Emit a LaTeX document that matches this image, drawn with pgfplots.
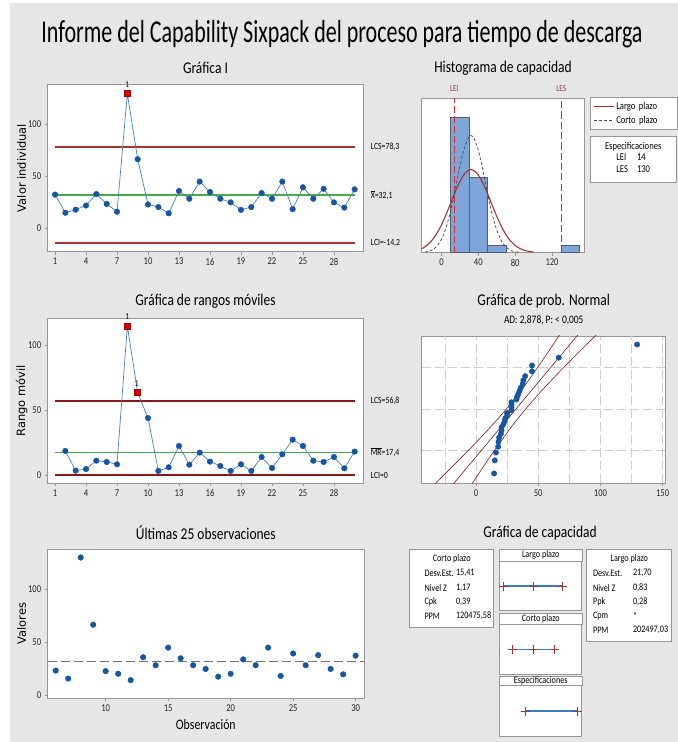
\documentclass[border=0pt]{standalone}
\usepackage{fontspec}
\setmainfont{Carlito}[FakeStretch=0.82]
\newfontfamily\titlefont{Carlito}[FakeStretch=0.69]
\newfontfamily\labfont{DejaVu Sans}
\usepackage{pgfplots}
\usepackage{pgfplotstable}
\pgfplotsset{compat=1.18}
\definecolor{bg}{RGB}{230,230,230}
\definecolor{ptblue}{RGB}{20,85,165}
\definecolor{lnblue}{RGB}{70,130,200}
\definecolor{limred}{RGB}{170,50,50}
\definecolor{limredb}{RGB}{172,48,52}
\definecolor{darkred}{RGB}{135,25,25}
\definecolor{cgreen}{RGB}{70,170,70}
\definecolor{sqred}{RGB}{225,0,0}
\definecolor{barblue}{RGB}{125,165,215}
\definecolor{baredge}{RGB}{80,95,120}
\definecolor{specred}{RGB}{225,40,40}
\definecolor{specredc}{RGB}{218,36,46}
\definecolor{frame}{RGB}{150,150,150}
\definecolor{gridc}{RGB}{205,205,205}
\definecolor{capblue}{RGB}{60,120,200}
\definecolor{curvegray}{RGB}{70,70,70}

\newcommand{\barred}[1]{{\setbox0\hbox{#1}\rlap{\raisebox{\dimexpr\ht0+1bp\relax}{\rule{\wd0}{0.5bp}}}#1}}

\pgfplotstableread{
obs val mr
1 32.5 nan
2 15 18.5
3 18 3.3
4 22 4.6
5 33 11
6 23.5 10
7 16 8.2
8 129.5 114.6
9 66.5 63.3
10 23 43.8
11 20.5 3.1
12 14.5 5.9
13 36 22.3
14 28.5 7.9
15 45 17.2
16 35 10.3
17 28.5 6.9
18 25 3.1
19 17.8 8.2
20 20.5 3.1
21 34 13.8
22 28.5 5.4
23 45 15.9
24 18.5 27.2
25 39.5 22.3
26 28.5 11
27 38 10
28 25 13.8
29 20 5.1
30 37.5 18
}\sixdata

\pgfplotstableread{
x z
14.5 -1.995
15 -1.590
16 -1.348
17.8 -1.167
18 -1.017
18.5 -0.887
20 -0.771
20.5 -0.664
20.5 -0.565
22 -0.471
23 -0.380
23.5 -0.293
25 -0.207
25 -0.124
28.5 -0.041
28.5 0.041
28.5 0.124
28.5 0.207
32.5 0.293
33 0.380
34 0.471
35 0.565
36 0.664
37.5 0.771
38 0.887
39.5 1.017
45 1.167
45 1.348
66.5 1.590
129.5 1.995
}\probdata

\pgfplotsset{
  sixbase/.style={
    scale only axis, anchor=south west,
    axis background/.style={fill=white},
    axis line style={frame, line width=0.8bp},
    tick style={frame, line width=0.6bp},
    tick align=outside, major tick length=3bp,
    xtick pos=lower, ytick pos=left,
    tick label style={font=\fontsize{10.5}{12}\selectfont, text=black!85},
    /pgf/number format/assume math mode=true,
  },
}
\tikzset{annot/.style={font=\fontsize{9.5}{11}\selectfont, anchor=west, xshift=4bp}}

\begin{document}
\begin{tikzpicture}[x=1bp,y=1bp]
\fill[white] (0,0) rectangle (678,742);
\fill[bg] (10,0) rectangle (678,739);

\node[font=\titlefont\fontsize{32}{36}\selectfont, anchor=base] at (342,699.7) {Informe del Capability Sixpack del proceso para tiempo de descarga};

% ---------------- I chart
\node[font=\fontsize{16.5}{19}\selectfont] at (205.5,673.7) {Gráfica I};
\node[font=\labfont\fontsize{11.5}{13}\selectfont, rotate=90] at (21.7,574) {Valor individual};
\begin{axis}[sixbase, clip=false, at={(47.7bp,490.3bp)}, width=315.6bp, height=167.4bp,
  xmin=0.29, xmax=30.84, ymin=-22.4, ymax=138.5,
  xtick={1,4,...,28}, ytick={0,50,100}]
\addplot[color=limred, line width=1.3bp] coordinates {(1,78.3)(30,78.3)};
\addplot[color=limredb, line width=1.4bp] coordinates {(1,-14.2)(30,-14.2)};
\addplot[color=cgreen, line width=1.3bp] coordinates {(1,32.1)(30,32.1)};
\addplot[color=lnblue, line width=0.7bp] table[x=obs,y=val] {\sixdata};
\addplot[only marks, mark=*, mark size=2.8bp, mark options={fill=ptblue, draw=ptblue}, skip coords between index={7}{8}] table[x=obs,y=val] {\sixdata};
\addplot[only marks, mark=square*, mark size=3bp, mark options={fill=sqred, draw=sqred!70!black}] coordinates {(8,129.5)};
\node[font=\fontsize{9}{10}\selectfont, anchor=south] at (axis cs:8,129.5) [yshift=3bp] {1};
\node[annot] at (axis cs:30.84,78.3) {LCS=78,3};
\node[annot] at (axis cs:30.84,32.1) {\barred{X}=32,1};
\node[annot] at (axis cs:30.84,-14.2) {LCI=-14,2};
\end{axis}

% ---------------- Histogram
\node[font=\fontsize{16.5}{19}\selectfont] at (503,673.7) {Histograma de capacidad};
\begin{axis}[sixbase, clip=false, at={(421.7bp,489.3bp)}, width=162.6bp, height=154.4bp,
  xmin=-21.4, xmax=155, ymin=0, ymax=20.5,
  xtick={0,40,80,120}, ytick=\empty,
  legend style={at={(1.035,1.006)}, anchor=north west, draw=frame, fill=white,
    font=\fontsize{10.5}{12}\selectfont, inner xsep=3bp, inner ysep=2.5bp, row sep=1bp,
    nodes={text width=56bp}},
  legend cell align=left,
  legend image code/.code={\draw[#1] (0bp,0bp) -- (20bp,0bp);}]
\addplot[ybar interval, fill=barblue, draw=baredge, line width=0.8bp, forget plot] coordinates {(10,18)(30,10)(50,1)(70,1)};
\addplot[ybar interval, fill=barblue, draw=baredge, line width=0.8bp, forget plot] coordinates {(130,1)(150,1)};
\addplot[color=specred, dash pattern=on 7bp off 3bp, line width=0.9bp, forget plot] coordinates {(14,0)(14,20.5)};
\addplot[color=specredc, dash pattern=on 7.2bp off 3.1bp, line width=1.1bp, forget plot] coordinates {(130,0.02)(130,10)(130,20.5)};
\addplot[color=limred, line width=1.1bp, smooth] coordinates {
(-21.4,0.528)(-20,0.617)(-15,1.046)(-10,1.680)(-5,2.558)(0,3.693)(5,5.057)(10,6.567)(15,8.086)(20,9.442)(25,10.455)(30,10.978)(32.1,11.03)(35,10.932)(40,10.323)(45,9.243)(50,7.849)(55,6.321)(60,4.827)(65,3.495)(70,2.400)(75,1.563)(80,0.965)(85,0.565)(90,0.314)(95,0.165)(100,0.083)};
\addlegendentry{Largo plazo}
\addplot[color=curvegray, dash pattern=on 3bp off 2bp, line width=0.7bp, smooth] coordinates {
(-18,0.079)(-15,0.145)(-10,0.372)(-5,0.856)(0,1.773)(5,3.308)(10,5.554)(15,8.391)(20,11.41)(25,13.97)(30,15.39)(32.1,15.53)(35,15.26)(40,13.62)(45,10.94)(50,7.911)(55,5.148)(60,3.016)(65,1.590)(70,0.755)(75,0.322)(80,0.124)(85,0.043)};
\addlegendentry{Corto plazo}
\node[font=\fontsize{9}{10}\selectfont, text=limred, anchor=south] at (axis cs:14,20.5) [yshift=3bp] {LEI};
\node[font=\fontsize{9}{10}\selectfont, text=limred, anchor=south] at (axis cs:130,20.5) [yshift=3bp] {LES};
\end{axis}
\node[draw=frame, fill=white, anchor=north west, minimum width=86bp, minimum height=46.3bp, inner sep=1bp,
  font=\fontsize{10.5}{14}\selectfont, align=center] at (590,606) {Especificaciones\\[-1bp]
  \begin{tabular}{@{}l@{\hspace{9bp}}l@{}}LEI & 14\\[-2bp] LES & 130\end{tabular}};

% ---------------- MR chart
\node[font=\fontsize{16.5}{19}\selectfont] at (205.5,441) {Gráfica de rangos móviles};
\node[font=\labfont\fontsize{11.5}{13}\selectfont, rotate=90] at (21.7,341.2) {Rango móvil};
\begin{axis}[sixbase, clip=false, at={(47.7bp,258.7bp)}, width=315.6bp, height=165bp,
  xmin=0.29, xmax=30.84, ymin=-6.4, ymax=120.5,
  xtick={1,4,...,28}, ytick={0,50,100}]
\addplot[color=darkred, line width=1.3bp] coordinates {(1,56.8)(30,56.8)};
\addplot[color=darkred, line width=1.3bp] coordinates {(1,0)(30,0)};
\addplot[color=cgreen, line width=1.3bp] coordinates {(1,17.4)(30,17.4)};
\addplot[color=lnblue, line width=0.7bp] table[x=obs,y=mr] {\sixdata};
\addplot[only marks, mark=*, mark size=2.8bp, mark options={fill=ptblue, draw=ptblue}, skip coords between index={7}{9}] table[x=obs,y=mr] {\sixdata};
\addplot[only marks, mark=square*, mark size=3bp, mark options={fill=sqred, draw=sqred!70!black}] coordinates {(8,114.6)(9,63.3)};
\node[font=\fontsize{9}{10}\selectfont, anchor=south] at (axis cs:8,114.6) [yshift=3bp] {1};
\node[font=\fontsize{9}{10}\selectfont, anchor=south] at (axis cs:9,63.3) [yshift=3bp, xshift=-1bp] {1};
\node[annot] at (axis cs:30.84,56.8) {LCS=56,8};
\node[annot] at (axis cs:30.84,17.4) {\barred{MR}=17,4};
\node[annot] at (axis cs:30.84,0) {LCI=0};
\end{axis}

% ---------------- Normal probability plot
\node[font=\fontsize{16.5}{19}\selectfont] at (543.7,441) {Gráfica de prob. Normal};
\node[font=\fontsize{11.5}{13}\selectfont] at (543.7,422) {AD: 2,878, P: < 0,005};
\begin{axis}[sixbase, at={(421.7bp,258.7bp)}, width=244bp, height=147.3bp,
  xmin=-43.7, xmax=152.5, ymin=-2.3, ymax=2.26,
  xtick={0,50,100,150}, extra x ticks={-25,25,75,125}, extra x tick labels={},
  extra x tick style={major tick length=0bp, xmajorgrids=true},
  xmajorgrids, ymajorgrids,
  ytick={-1.2816,0,1.2816}, yticklabels={}, y tick style={draw=none},
  major grid style={gridc, dash pattern=on 9bp off 4bp, line width=0.8bp}]
\addplot[color=darkred, line width=0.6bp, smooth] coordinates {(-37.92,-2.5)(-35.28,-2.4)(-24.75,-2)(-11.77,-1.5)(0.889,-1)(13.01,-0.5)(24.33,0)(34.71,0.5)(44.29,1)(53.33,1.5)(62.05,2)(68.88,2.4)(70.58,2.5)};
\addplot[color=darkred, line width=0.6bp, smooth] coordinates {(-6.38,-2.5)(-4.68,-2.4)(2.15,-2)(10.87,-1.5)(19.91,-1)(29.49,-0.5)(39.87,0)(51.19,0.5)(63.31,1)(75.97,1.5)(88.95,2)(99.48,2.4)(102.12,2.5)};
\addplot[color=darkred, line width=0.6bp] coordinates {(-22.15,-2.5)(86.35,2.5)};
\addplot[only marks, mark=*, mark size=2.7bp, mark options={fill=ptblue, draw=ptblue}] table[x=x,y=z] {\probdata};
\end{axis}

% ---------------- Last 25 observations
\node[font=\fontsize{16.5}{19}\selectfont] at (205.8,209.3) {Últimas 25 observaciones};
\node[font=\labfont\fontsize{11.5}{13}\selectfont, rotate=90] at (21.7,118.2) {Valores};
\node[font=\fontsize{14.5}{16}\selectfont] at (205.8,17) {Observación};
\begin{axis}[sixbase, at={(47.7bp,43.7bp)}, width=316.3bp, height=149bp,
  xmin=5.36, xmax=30.67, ymin=-2.5, ymax=137.2,
  xtick={10,15,...,30}, ytick={0,50,100}]
\addplot[color=black!55, dash pattern=on 9bp off 4bp, line width=0.9bp] coordinates {(5.36,32.1)(30.67,32.1)};
\addplot[only marks, mark=*, mark size=2.8bp, mark options={fill=ptblue, draw=ptblue}, skip coords between index={0}{5}] table[x=obs,y=val] {\sixdata};
\end{axis}

% ---------------- Capability plot
\node[font=\fontsize{16.5}{19}\selectfont] at (540,209.3) {Gráfica de capacidad};
\begin{scope}[font=\fontsize{10}{12}\selectfont]
\draw[frame, fill=white, line width=0.8bp] (409.3,114.7) rectangle (493.3,192.7);
\node at (451.7,182.7) {Corto plazo};
\node[anchor=west] at (421,168.7) {Desv.Est.};  \node[anchor=west] at (452.5,168.7) {15,41};
\node[anchor=west] at (421,154.3) {Nivel Z};    \node[anchor=west] at (452.5,154.3) {1,17};
\node[anchor=west] at (421,140) {Cpk};          \node[anchor=west] at (452.5,140) {0,39};
\node[anchor=west] at (421,126) {PPM};          \node[anchor=west] at (452.5,126) {120475,58};

\draw[frame, fill=white, line width=0.8bp] (586.7,101) rectangle (671.7,192.7);
\node at (629.3,182.7) {Largo plazo};
\node[anchor=west] at (589.5,168.7) {Desv.Est.};  \node[anchor=west] at (629.5,168.7) {21,70};
\node[anchor=west] at (589.5,154.3) {Nivel Z};    \node[anchor=west] at (629.5,154.3) {0,83};
\node[anchor=west] at (589.5,140) {Ppk};          \node[anchor=west] at (629.5,140) {0,28};
\node[anchor=west] at (589.5,126) {Cpm};          \node[anchor=west] at (629.5,126) {*};
\node[anchor=west] at (589.5,112) {PPM};          \node[anchor=west] at (629.5,112) {202497,03};

\node[draw=frame, fill=white, line width=0.8bp, anchor=north west, minimum width=82.7bp, minimum height=11.4bp, inner sep=0bp] at (499,192.7) {Largo plazo};
\node[draw=frame, fill=white, line width=0.8bp, anchor=north west, minimum width=82.7bp, minimum height=11.4bp, inner sep=0bp] at (499,129.3) {Corto plazo};
\node[draw=frame, fill=white, line width=0.8bp, anchor=north west, minimum width=82.7bp, minimum height=9.5bp, inner sep=0bp] at (499,66.3) {Especificaciones};
\end{scope}
\pgfplotsset{capstyle/.style={scale only axis, anchor=south west, width=82.7bp,
  xmin=-43.5, xmax=139, ymin=-1, ymax=1, ticks=none,
  axis line style={frame, line width=0.8bp}, axis background/.style={fill=white}, clip=false}}
\begin{axis}[capstyle, at={(499bp,131.3bp)}, height=49bp]
\addplot[color=capblue, line width=1.5bp, mark=+, mark size=4.5bp, mark options={draw=limred, line width=1bp}] coordinates {(-33,0)(32.1,0)(97.2,0)};
\end{axis}
\begin{axis}[capstyle, at={(499bp,68bp)}, height=49.3bp]
\addplot[color=capblue, line width=1.5bp, mark=+, mark size=4.5bp, mark options={draw=limred, line width=1bp}] coordinates {(-14.1,0)(32.1,0)(78.3,0)};
\end{axis}
\begin{axis}[capstyle, at={(499bp,5.3bp)}, height=51bp]
\addplot[color=capblue, line width=2bp, mark=+, mark size=4.5bp, mark options={draw=limred, line width=1bp}] coordinates {(14,0)(130,0)};
\end{axis}
\end{tikzpicture}
\end{document}
